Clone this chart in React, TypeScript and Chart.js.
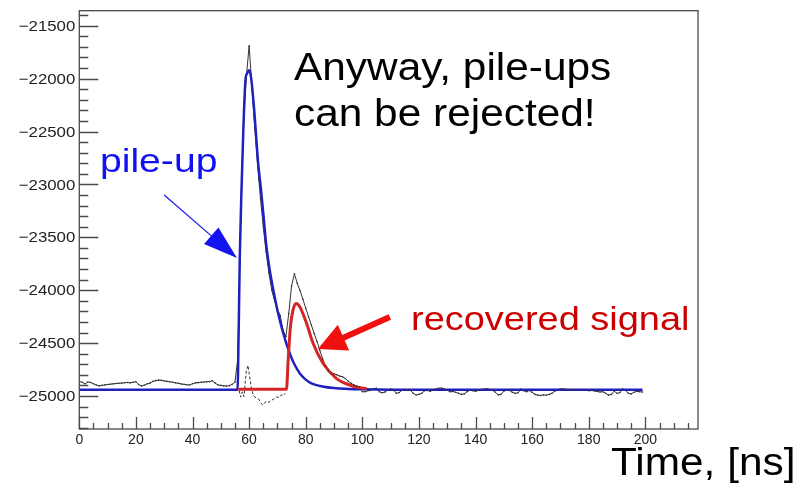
import React, { useEffect, useRef } from "react";
import { Chart, registerables } from "chart.js";

Chart.register(...registerables);

// ---------- data ----------
// raw waveform (black), 1 ns sampling
const dataTimes: number[] = Array.from({ length: 200 }, (_, i) => i);
const dataValues: number[] = [
  -24862, -24870, -24885, -24868, -24872, -24884, -24896, -24904, -24900, -24895,
  -24892, -24888, -24885, -24882, -24880, -24878, -24875, -24872, -24876, -24870,
  -24866, -24892, -24906, -24898, -24884, -24878, -24862, -24855, -24850, -24852,
  -24858, -24862, -24866, -24870, -24876, -24880, -24886, -24890, -24894, -24896,
  -24884, -24876, -24874, -24870, -24868, -24866, -24864, -24856, -24878, -24896,
  -24900, -24904, -24906, -24902, -24890, -24870, -24650, -23350, -22420, -21990,
  -21690, -22080, -22470, -22820, -23130, -23400, -23640, -23840, -24000, -24100,
  -24180, -24240, -24380, -24440, -24220, -23960, -23845, -23935, -24005, -24085,
  -24170, -24250, -24330, -24410, -24485, -24570, -24650, -24720, -24760, -24782,
  -24790, -24800, -24812, -24818, -24835, -24860, -24880, -24895, -24905, -24912,
  -24960, -24959, -24950, -24945, -24930, -24927, -24960, -24970, -24962, -24945,
  -24935, -24940, -24975, -24968, -24945, -24940, -24943, -24945, -24975, -24990,
  -24985, -24975, -24950, -24948, -24955, -24945, -24935, -24927, -24925, -24935,
  -24945, -24960, -24958, -24965, -24975, -24985, -24980, -24960, -24945, -24950,
  -24955, -24948, -24940, -24935, -24932, -24938, -24945, -24965, -24990, -24985,
  -24955, -24943, -24948, -24965, -24975, -24970, -24935, -24950, -24960, -24948,
  -24965, -24985, -24992, -24995, -24990, -24993, -24985, -24975, -24955, -24940,
  -24935, -24933, -24938, -24945, -24942, -24940, -24940, -24942, -24940, -24945,
  -24950, -24948, -24952, -24958, -24962, -24960, -24975, -24992, -24985, -24955,
  -24975, -24968, -24935, -24945, -24975, -24980, -24965, -24955, -24960, -24962,
];

// residual after pile-up subtraction (black dashed)
const residualTimes = [
  56.5, 57.0, 57.6, 58.2, 59.0, 59.6, 60.2, 60.9, 61.6, 62.6, 63.4, 64.2,
  64.9, 65.6, 66.3, 67.0, 67.9, 68.7, 69.6, 70.5, 71.4, 72.2, 72.8,
];
const residualValues = [
  -24950, -25010, -24960, -25005, -24760, -24710, -24820, -24940, -25000, -25020, -25030, -25070,
  -25085, -25060, -25050, -25060, -25040, -25030, -25008, -25015, -24990, -24995, -24975,
];

// pile-up fit (blue)
const pileupTimes = [
  0, 55.9, 56.3, 56.7, 57.3, 58.0, 58.7, 59.3, 60.0, 60.7, 61.8, 63.2, 64.2, 65.2,
  66.0, 67.0, 68.0, 69.0, 70.0, 71.0, 72.0, 73.0, 74.0, 75.0, 76.0, 78.0, 80.0,
  82.0, 85.0, 90.0, 95.0, 100.0, 110.0, 199.0,
];
const pileupValues = [
  -24940, -24940, -24400, -23690, -23054, -22450, -22015, -21950, -21920, -21990, -22300, -22800, -23050, -23330,
  -23560, -23760, -23920, -24060, -24190, -24300, -24400, -24490, -24570, -24640, -24700, -24790, -24845,
  -24880, -24905, -24925, -24933, -24937, -24940, -24940,
];

// recovered signal (red)
const signalTimes = [
  56.1, 73.2, 73.8, 74.6, 75.5, 76.6, 77.9, 80.3, 82.6, 86.1, 90.8, 95.5, 99.0, 101.5,
];
const signalValues = [
  -24937, -24937, -24660, -24345, -24188, -24125, -24156, -24313, -24502, -24691, -24833, -24896, -24922, -24930,
];

// axes
const xTickLabels = [0, 20, 40, 60, 80, 100, 120, 140, 160, 180, 200];
const yTickLabels = [-25000, -24500, -24000, -23500, -23000, -22500, -22000, -21500];
const X_MIN = 0;
const X_MAX = 218.6;
const Y_MIN = -25312;
const Y_MAX = -21358;
const X_MINOR_STEP = 5;
const Y_MINOR_STEP = 100;

// annotation arrows in data coordinates: [tailT, tailV, tipT, tipV]
const pileupArrow = [30.0, -23100, 55.7, -23696];
const signalArrow = [109.7, -24254, 84.3, -24556];

const FONT = '"Liberation Sans", Arial, Helvetica, sans-serif';

function toPts(ts: number[], vs: number[]) {
  return ts.map((t, i) => ({ x: t, y: vs[i] }));
}

function stretchedText(ctx: CanvasRenderingContext2D, text: string, x: number, y: number, size: number, color: string, sx: number, align: CanvasTextAlign = "left", baseline: CanvasTextBaseline = "alphabetic") {
  ctx.save();
  ctx.font = `${size}px ${FONT}`;
  ctx.fillStyle = color;
  ctx.textBaseline = baseline;
  ctx.textAlign = align;
  ctx.translate(x, y);
  ctx.scale(sx, 1);
  ctx.fillText(text, 0, 0);
  ctx.restore();
}

function arrow(ctx: CanvasRenderingContext2D, x1: number, y1: number, x2: number, y2: number, color: string, lw: number, headLen: number, headHalf: number) {
  const dx = x2 - x1, dy = y2 - y1;
  const len = Math.hypot(dx, dy);
  const ux = dx / len, uy = dy / len;
  const bx = x2 - ux * headLen, by = y2 - uy * headLen;
  ctx.save();
  ctx.strokeStyle = color;
  ctx.fillStyle = color;
  ctx.lineWidth = lw;
  ctx.beginPath();
  ctx.moveTo(x1, y1);
  ctx.lineTo(bx + ux * 2, by + uy * 2);
  ctx.stroke();
  ctx.beginPath();
  ctx.moveTo(x2, y2);
  ctx.lineTo(bx - uy * headHalf, by + ux * headHalf);
  ctx.lineTo(bx + uy * headHalf, by - ux * headHalf);
  ctx.closePath();
  ctx.fill();
  ctx.restore();
}

const decorPlugin = {
  id: "rootDecor",
  afterDatasetsDraw(chart: any) {
    const ctx: CanvasRenderingContext2D = chart.ctx;
    const { left, right, top, bottom } = chart.chartArea;
    const xs = chart.scales.x;
    const ys = chart.scales.y;
    ctx.save();
    // frame
    ctx.strokeStyle = "#4a4a4a";
    ctx.lineWidth = 1.3;
    ctx.strokeRect(left, top, right - left, bottom - top);
    // x ticks (inward)
    ctx.beginPath();
    for (let t = X_MIN; t <= X_MAX + 1e-6; t += X_MINOR_STEP) {
      const px = Math.round(xs.getPixelForValue(t)) + 0.5;
      const len = t % 20 === 0 ? 12 : 6;
      ctx.moveTo(px, bottom);
      ctx.lineTo(px, bottom - len);
    }
    // y ticks (inward)
    const yStart = Math.ceil(Y_MIN / Y_MINOR_STEP) * Y_MINOR_STEP;
    for (let v = yStart; v <= Y_MAX; v += Y_MINOR_STEP) {
      const py = Math.round(ys.getPixelForValue(v)) + 0.5;
      const len = v % 500 === 0 ? 19 : 9;
      ctx.moveTo(left, py);
      ctx.lineTo(left + len, py);
    }
    ctx.lineWidth = 1.3;
    ctx.stroke();
    ctx.restore();

    // y tick labels
    for (const v of yTickLabels) {
      const py = ys.getPixelForValue(v);
      stretchedText(ctx, "\u2212" + String(Math.abs(v)), left - 4, py + 1, 15, "#222", 1.12, "right", "middle");
    }

    // arrows
    arrow(ctx,
      xs.getPixelForValue(pileupArrow[0]), ys.getPixelForValue(pileupArrow[1]),
      xs.getPixelForValue(pileupArrow[2]), ys.getPixelForValue(pileupArrow[3]),
      "#1414f0", 1.2, 34, 11);
    arrow(ctx,
      xs.getPixelForValue(signalArrow[0]), ys.getPixelForValue(signalArrow[1]),
      xs.getPixelForValue(signalArrow[2]), ys.getPixelForValue(signalArrow[3]),
      "#f01010", 6, 28, 14);

    // texts
    const sx = 1.15;
    stretchedText(ctx, "Anyway, pile-ups", 294, 80, 38, "#000", sx * 0.97);
    stretchedText(ctx, "can be rejected!", 294, 126, 38, "#000", sx * 0.97);
    stretchedText(ctx, "pile-up", 100, 172, 34, "#1010f0", sx);
    stretchedText(ctx, "recovered signal", 411, 330, 33, "#cc0000", sx);
    stretchedText(ctx, "Time, [ns]", 611, 475, 38, "#000", sx * 0.97);
  },
};

export default function App() {
  const ref = useRef<HTMLCanvasElement | null>(null);
  useEffect(() => {
    if (!ref.current) return;
    const chart = new Chart(ref.current, {
      type: "line",
      data: {
        datasets: [
          {
            label: "samples",
            data: toPts(dataTimes, dataValues),
            showLine: false,
            pointRadius: 0.8,
            pointBackgroundColor: "#333",
            pointBorderWidth: 0,
            order: 0,
          },
          {
            label: "recovered signal",
            data: toPts(signalTimes, signalValues),
            borderColor: "#d42424",
            borderWidth: 3,
            pointRadius: 0,
            cubicInterpolationMode: "monotone",
            order: 1,
          },
          {
            label: "pile-up fit",
            data: toPts(pileupTimes, pileupValues),
            borderColor: "#2020c0",
            borderWidth: 2.5,
            pointRadius: 0,
            cubicInterpolationMode: "monotone",
            order: 2,
          },
          {
            label: "residual",
            data: toPts(residualTimes, residualValues),
            borderColor: "#333",
            borderWidth: 1,
            borderDash: [3, 2],
            pointRadius: 0,
            order: 3,
          },
          {
            label: "waveform",
            data: toPts(dataTimes, dataValues),
            borderColor: "#333",
            borderWidth: 1,
            pointRadius: 0,
            order: 4,
          },
        ],
      },
      options: {
        responsive: false,
        animation: false,
        events: [],
        layout: { padding: { left: 0, top: 10.7, right: 102, bottom: 0 } },
        plugins: { legend: { display: false }, tooltip: { enabled: false } },
        scales: {
          x: {
            type: "linear",
            min: X_MIN,
            max: X_MAX,
            grid: { display: false, drawTicks: false },
            border: { display: false },
            ticks: {
              stepSize: 20,
              includeBounds: false,
              autoSkip: false,
              maxRotation: 0,
              padding: 3,
              color: "#222",
              font: { family: FONT, size: 14 },
              callback: (v: any) => (xTickLabels.includes(Number(v)) ? String(v) : ""),
            },
            afterFit: (s: any) => {
              s.height = 62;
            },
          },
          y: {
            type: "linear",
            min: Y_MIN,
            max: Y_MAX,
            grid: { display: false, drawTicks: false },
            border: { display: false },
            ticks: { display: false },
            afterFit: (s: any) => {
              s.width = 79.3;
            },
          },
        },
      },
      plugins: [decorPlugin],
    } as any);
    return () => chart.destroy();
  }, []);
  return (
    <div style={{ position: "absolute", left: 0, top: 0, width: 800, height: 491, background: "#fff" }}>
      <canvas ref={ref} width={800} height={491} />
    </div>
  );
}
